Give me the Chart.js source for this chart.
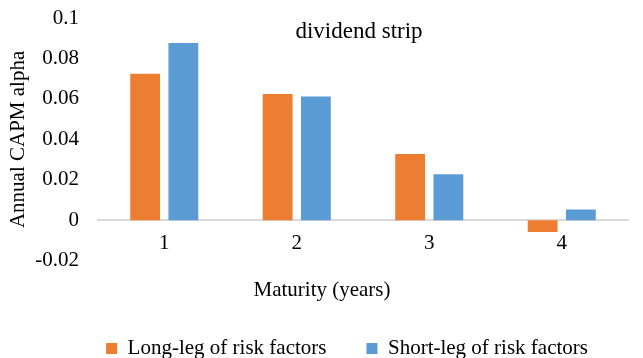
<!DOCTYPE html>
<html>
<head>
<meta charset="utf-8">
<script src="https://cdn.jsdelivr.net/npm/chart.js@4"></script>
<style>
  html, body { margin: 0; padding: 0; background: #fff; }
  #wrap { width: 643px; height: 358px; }
</style>
</head>
<body>
<div id="wrap"><canvas id="alpha-chart"></canvas></div>
<script>
// maturities on the x axis
const maturities = ['1', '2', '3', '4'];
// annual CAPM alpha
const longLeg = [0.0724, 0.0625, 0.0328, -0.0058];
const shortLeg = [0.0876, 0.0612, 0.0228, 0.0053];
const seriesNames = ['Long-leg of risk factors', 'Short-leg of risk factors'];
const yTicks = [-0.02, 0, 0.02, 0.04, 0.06, 0.08, 0.1];

const serif = "'Liberation Serif', 'Times New Roman', serif";

document.addEventListener("DOMContentLoaded", function() {
  const ctx = document.getElementById("alpha-chart");

  // small title that sits inside the plot, like the excel one
  const innerTitle = {
    id: 'innerTitle',
    afterDraw(chart) {
      const c = chart.ctx;
      const area = chart.chartArea;
      c.save();
      c.font = '23px ' + serif;
      c.fillStyle = '#000';
      c.textAlign = 'center';
      c.textBaseline = 'middle';
      c.fillText('dividend strip', (area.left + area.right) / 2 - 4, area.top + 14);
      c.restore();
    }
  };

  new Chart(ctx, {
    type: 'bar',
    data: {
      labels: maturities,
      datasets: [{
        label: seriesNames[0],
        data: longLeg,
        backgroundColor: '#ED7D31',
        categoryPercentage: 0.577,
        barPercentage: 0.78
      }, {
        label: seriesNames[1],
        data: shortLeg,
        backgroundColor: '#5B9BD5',
        categoryPercentage: 0.577,
        barPercentage: 0.78
      }]
    },
    options: {
      responsive: true,
      maintainAspectRatio: false,
      animation: false,
      devicePixelRatio: 1,
      layout: { padding: { left: 16, right: 15, top: 18, bottom: -11 } },
      plugins: {
        tooltip: { enabled: false },
        title: {
          display: true,
          text: 'Maturity (years)',
          position: 'bottom',
          weight: 0,
          color: '#000',
          font: { family: serif, size: 21, weight: 'normal' },
          padding: { top: 17, bottom: -5 }
        },
        legend: {
          position: 'bottom',
          align: 'end',
          labels: {
            color: '#000',
            font: { family: serif, size: 21 },
            boxWidth: 11,
            boxHeight: 11,
            padding: 40
          }
        }
      },
      scales: {
        x: {
          position: { y: 0 },
          grid: { display: false, drawTicks: false },
          border: { display: true, color: '#D9D9D9', width: 2 },
          ticks: {
            color: '#000',
            font: { family: serif, size: 21 },
            padding: 11
          }
        },
        y: {
          min: yTicks[0],
          max: yTicks[yTicks.length - 1],
          afterBuildTicks: function(scale) {
            scale.ticks = yTicks.map(v => ({ value: v }));
          },
          afterFit: function(scale) {
            scale.width = 82;
          },
          // hidden tick marks give the gap between labels and plot
          grid: { display: false, drawTicks: true, tickLength: 19 },
          border: { display: false },
          ticks: {
            color: '#000',
            font: { family: serif, size: 21 },
            padding: 0,
            callback: function(v) { return String(+v.toFixed(2)); }
          },
          title: {
            display: true,
            text: 'Annual CAPM alpha',
            color: '#000',
            font: { family: serif, size: 21 },
            padding: { top: -10, bottom: 0 }
          }
        }
      }
    },
    plugins: [innerTitle]
  });
});
</script>
</body>
</html>
